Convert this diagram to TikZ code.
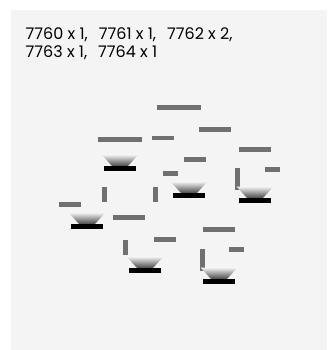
\documentclass[tikz,border=0pt]{standalone}
\usepackage{fontspec}
\setmainfont{Poppins}
\definecolor{panelgray}{HTML}{F4F4F4}
\definecolor{bargray}{HTML}{707070}
\tikzset{
	bar/.style={fill=bargray},
	conebase/.style={fill=black},
	cone/.style={top color=black!4, bottom color=black!72},
	funnel/.pic={
		\shade[cone] (-2.5,-11.5) -- (34.5,-11.5) -- (24,0) -- (8,0) -- cycle;
		\fill[conebase] (0,0) rectangle (32,5);
	}
}
\begin{document}
\begin{tikzpicture}[x=1pt, y=-1pt, every node/.style={font=\fontsize{16}{18}\selectfont}]
	\useasboundingbox (0,0) rectangle (333,350);
	\fill[panelgray] (11,10) rectangle (327,350);
	\node[anchor=base west, align=left, inner sep=0pt] (counts) at (25.5,57.5) {7760 x 1,\hspace{11pt}7761 x 1,\hspace{11pt}7762 x 2,\\7763 x 1,\hspace{11pt}7764 x 1};
	% horizontal bars
	\fill[bar] (157,105) rectangle (201,110);
	\fill[bar] (199,127) rectangle (231,131.5);
	\fill[bar] (98,137) rectangle (142,142);
	\fill[bar] (152,135.5) rectangle (174,140);
	\fill[bar] (239,147) rectangle (271,152);
	\fill[bar] (184,157) rectangle (206,162);
	\fill[bar] (265,167) rectangle (280,172);
	\fill[bar] (163,171) rectangle (178,176);
	\fill[bar] (59,202) rectangle (81,207);
	\fill[bar] (113,215) rectangle (145,220);
	\fill[bar] (203,227) rectangle (235,232);
	\fill[bar] (154,237) rectangle (176,242);
	\fill[bar] (229,247) rectangle (244,252);
	% vertical bars
	\fill[bar] (235,168) rectangle (240,190);
	\fill[bar] (102,187) rectangle (107,202);
	\fill[bar] (153,187) rectangle (158,202);
	\fill[bar] (123,240) rectangle (128,255);
	\fill[bar] (200,249) rectangle (205,271);
	% funnels
	\pic at (104,166) {funnel};
	\pic at (173,193) {funnel};
	\pic at (239,198) {funnel};
	\pic at (71,224) {funnel};
	\pic at (129,268) {funnel};
	\pic at (203,279) {funnel};
\end{tikzpicture}
\end{document}
